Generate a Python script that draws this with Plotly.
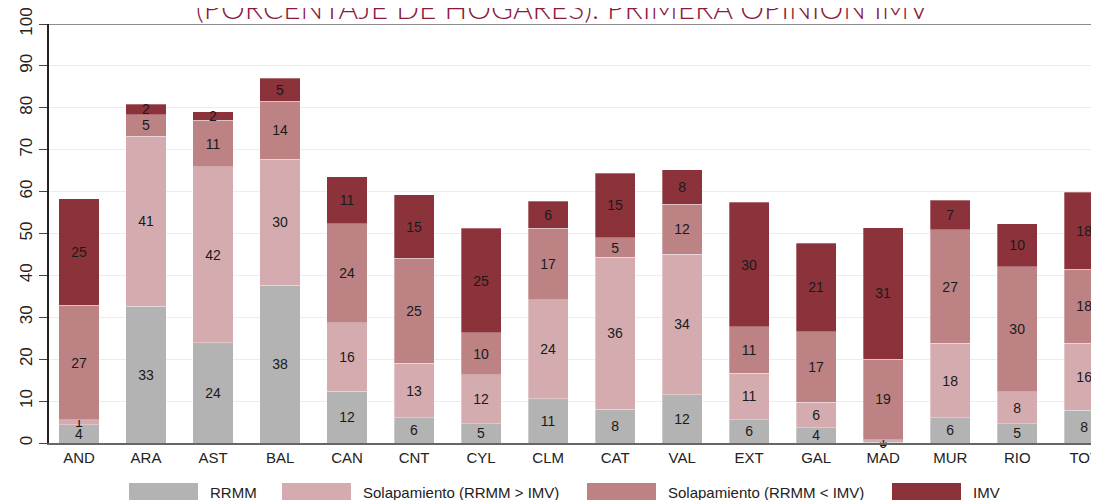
import plotly.graph_objects as go

categories = ["AND", "ARA", "AST", "BAL", "CAN", "CNT", "CYL", "CLM", "CAT", "VAL",
              "EXT", "GAL", "MAD", "MUR", "RIO", "TOT"]
series_names = ["RRMM", "Solapamiento (RRMM > IMV)", "Solapamiento (RRMM < IMV)", "IMV"]
rrmm =      [4.3, 32.6, 23.9, 37.6, 12.3, 6.0, 4.6, 10.6, 8.1, 11.5, 5.6, 3.7, 0.2, 6.0, 4.6, 7.8]
sol_mayor = [1.2, 40.6, 42.0, 30.1, 16.4, 13.0, 11.7, 23.6, 36.2, 33.6, 11.1, 6.0, 0.6, 17.8, 7.6, 16.0]
sol_menor = [27.4, 5.2, 11.1, 13.9, 23.6, 25.1, 10.0, 17.0, 4.7, 11.9, 11.1, 16.9, 19.2, 27.1, 29.9, 17.7]
imv =       [25.4, 2.4, 2.0, 5.4, 11.2, 15.1, 24.9, 6.5, 15.4, 8.2, 29.6, 21.1, 31.4, 7.0, 10.2, 18.4]
y_ticks = [0, 10, 20, 30, 40, 50, 60, 70, 80, 90, 100]
title_text = "(PORCENTAJE DE HOGARES). PRIMERA OPINIÓN IMV"

series_values = [rrmm, sol_mayor, sol_menor, imv]
colors = ["#b3b3b3", "#d4acaf", "#bc8284", "#8c323a"]

fig = go.Figure()
for name, vals, col in zip(series_names, series_values, colors):
    fig.add_trace(go.Bar(
        x=categories, y=vals, name=name,
        marker=dict(color=col, line=dict(color="rgba(255,255,255,0.5)", width=0.6)),
        width=0.6,
        text=[f"{v:.0f}" for v in vals],
        textposition="inside", insidetextanchor="middle", textangle=0,
        constraintext="none",
        textfont=dict(family="Liberation Sans, Arial, sans-serif", size=14, color="#1a1a1a"),
        showlegend=False,
        cliponaxis=False,
    ))

# page body adds an 8px offset; margins compensate
fig.update_layout(
    barmode="stack",
    width=1099, height=500,
    margin=dict(l=41, r=8, t=16, b=65, autoexpand=False),
    paper_bgcolor="white", plot_bgcolor="white",
    showlegend=False,
    xaxis=dict(
        range=[-0.448, 15.22], automargin=False,
        showgrid=False, zeroline=False,
        showline=True, linecolor="#666666", linewidth=2,
        ticks="", tickfont=dict(family="Liberation Sans, Arial, sans-serif", size=15, color="#222222"),
    ),
    yaxis=dict(
        range=[0, 100], tickvals=y_ticks, automargin=False,
        ticklabeloverflow="allow",
        showgrid=True, gridcolor="#e6eef0", gridwidth=1,
        zeroline=False,
        showline=True, linecolor="#222222", linewidth=1.5,
        ticks="outside", ticklen=8, tickcolor="#444444", tickwidth=1,
        tickangle=-90,
        tickfont=dict(family="Liberation Sans, Arial, sans-serif", size=17, color="#222222"),
    ),
    font=dict(family="Liberation Sans, Arial, sans-serif"),
)

# top border line at 100
fig.add_shape(type="line", xref="paper", yref="y", x0=0, x1=1, y0=100, y1=100,
              line=dict(color="#666666", width=1.5))

# title (cropped at top)
fig.add_annotation(text=title_text, xref="paper", yref="paper", x=0.4895, y=1,
                   xanchor="center", yanchor="bottom", yshift=-3, showarrow=False,
                   font=dict(family="Lato, 'Noto Sans', sans-serif", size=30, color="#8b1a3a", weight=300))

# manual legend with wide swatches
leg_x0 = [129, 282, 587, 892]
for i, (name, col) in enumerate(zip(series_names, colors)):
    x0 = leg_x0[i]
    fig.add_shape(type="rect", xref="paper", yref="paper",
                  x0=(x0 - 49) / 1050, x1=(x0 + 69 - 49) / 1050,
                  y0=(443 - 510) / 419, y1=(443 - 483) / 419,
                  line=dict(width=0), fillcolor=col, layer="above")
    fig.add_annotation(text=name, xref="paper", yref="paper",
                       x=(x0 + 79 - 49) / 1050, y=(443 - 492.5) / 419,
                       xanchor="left", yanchor="middle", showarrow=False,
                       font=dict(family="Liberation Sans, Arial, sans-serif", size=15, color="#222222"))

fig.write_html("out.html")
